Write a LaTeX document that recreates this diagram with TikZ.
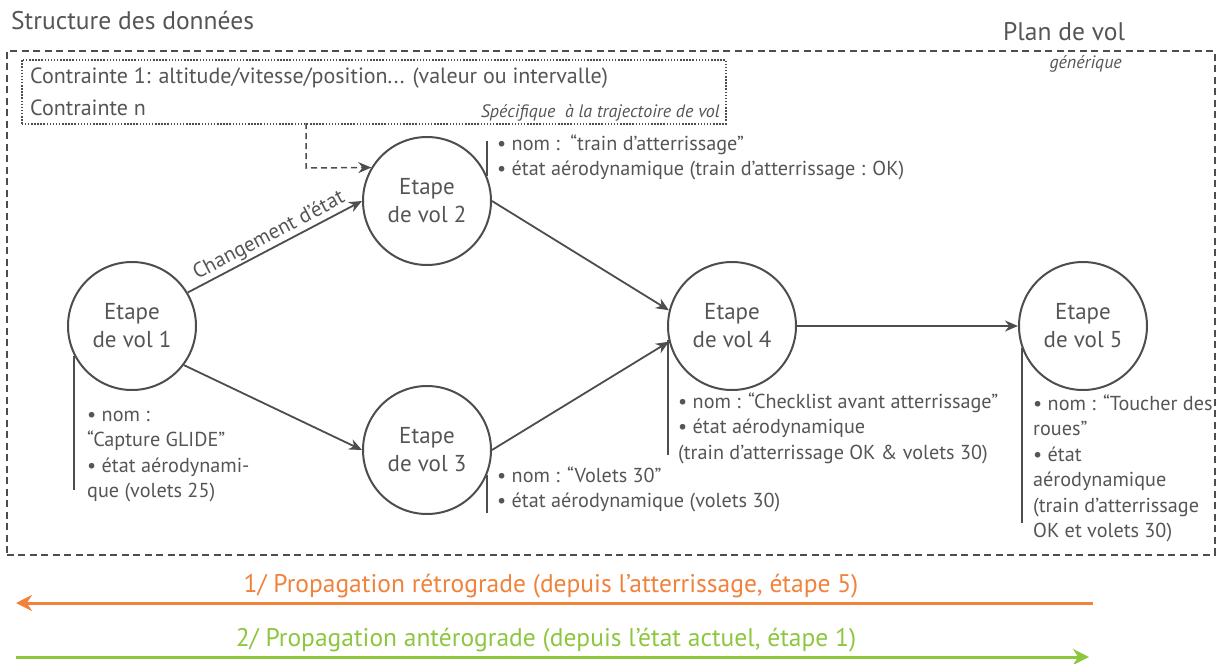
\documentclass[tikz,border=0pt]{standalone}
\usepackage{fontspec}
\setmainfont{PT Sans}
\usetikzlibrary{arrows.meta}
\definecolor{ink}{HTML}{4D4D4D}
\definecolor{txt}{HTML}{555555}
\definecolor{orng}{HTML}{F0823C}
\definecolor{grn}{HTML}{8DC63F}
\begin{document}
\begin{tikzpicture}[x=1pt,y=-1pt,
  etape/.style={circle,draw=ink,line width=2pt,minimum size=128pt,inner sep=0pt,text=txt,align=center,font=\fontsize{23}{28}\selectfont},
  info/.style={anchor=north west,inner sep=0pt,text=txt,align=left,font=\fontsize{20.2}{25.5}\selectfont},
  flow/.style={draw=ink,line width=1.8pt,-{Stealth[length=13pt,width=11pt]}},
  bar/.style={draw=ink,line width=2pt},
  title/.style={anchor=base west,inner sep=0pt,text=txt,font=\fontsize{22}{26}\selectfont},
  bigtitle/.style={anchor=base west,inner sep=0pt,text=txt,font=\fontsize{25.5}{30}\selectfont},
  note/.style={anchor=base east,inner sep=0pt,text=txt,font=\itshape\fontsize{18}{20}\selectfont},
  propag/.style={line width=3pt,-{Stealth[length=16pt,width=16pt]}},
  ptext/.style={inner sep=0pt,font=\fontsize{25.5}{28}\selectfont}
]
\useasboundingbox (0,0) rectangle (1219,664);
% frames
\node[draw=ink,line width=1.5pt,dash pattern=on 7pt off 4.5pt,inner sep=0pt,
  minimum width=1208pt,minimum height=504pt,anchor=north west] (plan) at (6,50) {};
\node[draw=ink,line width=1.5pt,dash pattern=on 1.5pt off 1.6pt,inner sep=0pt,
  minimum width=704pt,minimum height=64pt,anchor=north west] (cbox) at (21,59) {};
% titles
\node[bigtitle] (tstruct) at (11,29) {Structure des données};
\node[bigtitle] (tplan) at (1003,40) {Plan de vol};
\node[note] (tgen) at (1122,68) {générique};
\node[title] (tc1) at (30,83) {Contrainte 1: altitude/vitesse/position... (valeur ou intervalle)};
\node[title] (tcn) at (30,115) {Contrainte n};
\node[note] (tspec) at (720,117) {Spécifique \ à la trajectoire de vol};
% circles
\node[etape] (c1) at (132,326) {Etape\\de vol 1};
\node[etape] (c2) at (427,201) {Etape\\de vol 2};
\node[etape] (c3) at (427,450) {Etape\\de vol 3};
\node[etape] (c4) at (732,326) {Etape\\de vol 4};
\node[etape] (c5) at (1083,326) {Etape\\de vol 5};
% connectors
\coordinate (dtop) at (306,123);
\coordinate (dcorner) at (306,168);
\draw[draw=ink,line width=1.5pt,dash pattern=on 6pt off 4pt,-{Stealth[length=13pt,width=11pt]}]
  (dtop) -- (dcorner) -- (c2.149);
\draw[flow] (c1.31) -- node[pos=0.5,sloped,above,inner sep=1.5pt,text=txt,font=\fontsize{21}{24}\selectfont] {Changement d’état} (c2.west);
\draw[flow] (c1.-37) -- (c3.west);
\draw[flow] (c2.east) -- (c4.166);
\draw[flow] (c3.east) -- (c4.194);
\draw[flow] (c4.east) -- (c5.west);
% bars
\coordinate (b1e) at (75,490);
\coordinate (b2e) at (486,141);
\coordinate (b3e) at (486,513);
\coordinate (b4e) at (669,455);
\coordinate (b5e) at (1023,523);
\draw[bar] (c1.207) -- (c1.207 |- b1e);
\draw[bar] (c2.23) -- (c2.23 |- b2e);
\draw[bar] (c3.-23) -- (c3.-23 |- b3e);
\draw[bar] (c4.192) -- (c4.192 |- b4e);
\draw[bar] (c5.200) -- (c5.200 |- b5e);
% info texts
\node[info] (i1) at (87,403) {\strut• nom :\\“Capture GLIDE”\\• état aérodynami-\\que (volets 25)};
\node[info] (i2) at (497,132) {\strut• nom : \,“train d’atterrissage”\\• état aérodynamique (train d’atterrissage : OK)};
\node[info] (i3) at (497,464) {\strut• nom : “Volets 30”\\• état aérodynamique (volets 30)};
\node[info] (i4) at (678,390) {\strut• nom : “Checklist avant atterrissage”\\• état aérodynamique\\(train d’atterrissage OK \& volets 30)};
\node[info] (i5) at (1033,392) {\strut• nom : “Toucher des\\roues”\\• état\\aérodynamique\\(train d’atterrissage\\OK et volets 30)};
% propagation arrows
\coordinate (o1) at (1093,603);
\coordinate (o2) at (16,603);
\draw[propag,draw=orng] (o1) -- (o2);
\node[ptext,text=orng] (p1) at (551,586) {1/ Propagation rétrograde (depuis l’atterrissage, étape 5)};
\coordinate (g1) at (16,657);
\coordinate (g2) at (1089,657);
\draw[propag,draw=grn] (g1) -- (g2);
\node[ptext,text=grn] (p2) at (546,640) {2/ Propagation antérograde (depuis l’état actuel, étape 1)};
\end{tikzpicture}
\end{document}
